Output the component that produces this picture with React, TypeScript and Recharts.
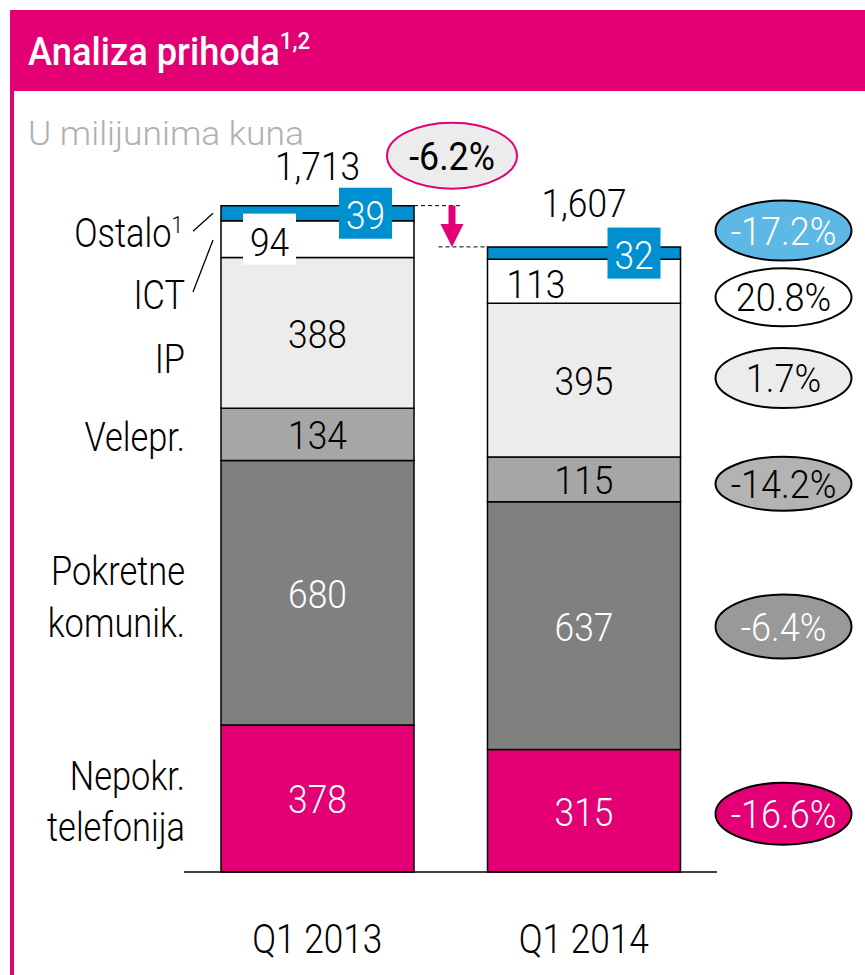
import React from 'react';
import { BarChart, Bar, XAxis, YAxis, LabelList } from 'recharts';

// ---------- data ----------
const years = ['Q1 2013', 'Q1 2014'];
const nepokretnaTelefonija = [378, 315];
const pokretneKomunikacije = [680, 637];
const veleprodaja = [134, 115];
const ipUsluge = [388, 395];
const ictUsluge = [94, 113];
const ostaloPrihodi = [39, 32];
const totalLabels = ['1,713', '1,607'];
const totalValues = [1713, 1607];
const totalChange = '-6.2%';
const seriesKeys = ['nepokr', 'pokretne', 'velepr', 'ip', 'ict', 'ostalo'];
const seriesNames = [['Nepokr.', 'telefonija'], ['Pokretne', 'komunik.'], ['Velepr.'], ['IP'], ['ICT'], ['Ostalo']];
const seriesChange = ['-16.6%', '-6.4%', '-14.2%', '1.7%', '20.8%', '-17.2%'];
const titleText = 'Analiza prihoda';
const titleNote = '1,2';
const ostaloNote = '1';
const unitText = 'U milijunima kuna';

const seriesValues = [nepokretnaTelefonija, pokretneKomunikacije, veleprodaja, ipUsluge, ictUsluge, ostaloPrihodi];

const data = years.map((year, i) => {
  const row: any = { year };
  seriesKeys.forEach((k, s) => {
    row[k] = seriesValues[s][i];
  });
  return row;
});

// ---------- styles ----------
const PINK = '#e20074';
const BLUE = '#0090d0';
const FONT = 'Roboto, "Liberation Sans", Arial, sans-serif';

const STYLE = [
  { fill: PINK, text: '#fff', nameDy: [-8, 43], ell: { fill: PINK, text: '#fff', dy: 3, ry: 31 } },
  { fill: '#808080', text: '#fff', nameDy: [-8, 44], ell: { fill: '#999999', text: '#fff', dy: 1, ry: 32 } },
  { fill: '#a6a6a6', text: '#000', nameDy: [16.5], ell: { fill: '#b3b3b3', text: '#000', dy: 4.5, ry: 27 } },
  { fill: '#ececec', text: '#000', nameDy: [40.5], ell: { fill: '#ececec', text: '#000', dy: -2, ry: 30 } },
  { fill: '#ffffff', text: '#000', nameDy: [70], ell: { fill: '#ffffff', text: '#000', dy: 16, ry: 29 } },
  { fill: BLUE, text: '#fff', nameDy: [34], ell: { fill: '#5db8e5', text: '#fff', dy: -22.5, ry: 30 } },
];
const TOTAL_DY = [-26, -30];

function T({ x, y, size = 38, anchor = 'middle', fill = '#000', weight = 300, sx = 0.93, children }: any) {
  return (
    <text
      transform={`translate(${x},${y}) scale(${sx},1)`}
      x={0}
      y={0}
      fontSize={size}
      textAnchor={anchor}
      fill={fill}
      fontFamily={FONT}
      fontWeight={weight}
    >
      {children}
    </text>
  );
}

const geo = (p: any) => {
  const vb = p.viewBox || {};
  return {
    x: Number(p.x ?? vb.x),
    y: Number(p.y ?? vb.y),
    w: Number(p.width ?? vb.width),
    h: Number(p.height ?? vb.height),
    index: Number(p.index),
  };
};

function makeContent(s: number) {
  return (p: any) => {
    const { x, y, w, h, index } = geo(p);
    if (!isFinite(x) || !isFinite(y)) return null;
    const st = STYLE[s];
    const mid = y + h / 2;
    const key = seriesKeys[s];
    const value = seriesValues[s][index];
    const parts: any[] = [];

    // value labels
    if (key === 'ostalo') {
      const cx = x + w - (index === 0 ? 48.5 : 46.5);
      parts.push(<rect key="box" x={cx - 26.5} y={mid - 25.5} width={53} height={51} fill={BLUE} />);
      parts.push(<T key="v" x={cx} y={mid + 16} fill="#fff">{value}</T>);
      if (index === 0) {
        // ICT label box of the first bar sits over the Ostalo band, so draw it here (on top)
        const k = h / value;
        const ictMid = y + h + (ictUsluge[0] * k) / 2;
        const ix = x + 48.5;
        parts.push(<rect key="ibox" x={ix - 26.5} y={ictMid - 25.5} width={53} height={51} fill="#fff" />);
        parts.push(<T key="iv" x={ix} y={ictMid + 16.5} fill="#000">{ictUsluge[0]}</T>);
      }
    } else if (key === 'ict') {
      if (index !== 0) parts.push(<T key="v" x={x + 48.5} y={mid + 16.5} fill="#000">{value}</T>);
    } else {
      parts.push(<T key="v" x={x + w / 2} y={mid + 15} fill={st.text}>{value}</T>);
    }

    if (index === 0) {
      // category names at left
      if (key === 'ostalo') {
        parts.push(
          <T key="n" x={x - 38} y={mid + st.nameDy[0]} anchor="end" size={40} sx={0.86}>
            {seriesNames[s][0]}
            <tspan dy={-14} fontSize={24} fill="#000">{ostaloNote}</tspan>
          </T>
        );
        parts.push(<line key="ld" x1={x - 28} y1={mid + 18} x2={x - 8} y2={mid} stroke="#000" strokeWidth={1.3} />);
      } else {
        seriesNames[s].forEach((line, li) => {
          parts.push(
            <T key={'n' + li} x={x - 36} y={mid + st.nameDy[li]} anchor="end" size={40} sx={0.86}>
              {line}
            </T>
          );
        });
        if (key === 'ict') {
          parts.push(<line key="ld" x1={x - 28} y1={mid + 53} x2={x - 8} y2={mid + 1} stroke="#000" strokeWidth={1.3} />);
        }
      }
    } else {
      // growth ellipse on right
      const ex = x + w + 103;
      const ey = mid + st.ell.dy;
      parts.push(<ellipse key="e" cx={ex} cy={ey} rx={68} ry={st.ell.ry} fill={st.ell.fill} stroke="#000" strokeWidth={2} />);
      parts.push(<T key="et" x={ex} y={ey + 14} fill={st.ell.text} sx={0.95}>{seriesChange[s]}</T>);
    }

    if (key === 'ostalo') {
      parts.push(
        <T key="tot" x={x + w / 2} y={y + TOTAL_DY[index]} fill="#000">
          {totalLabels[index]}
        </T>
      );
      if (index === 0) {
        const k = h / value;
        const top2 = y + (totalValues[0] - totalValues[1]) * k;
        const ax = x + w + 38;
        parts.push(<line key="d1" x1={x + w} y1={y} x2={x + w + 49} y2={y} stroke="#000" strokeWidth={1} strokeDasharray="4 3" />);
        parts.push(<rect key="sh" x={ax - 3.5} y={y} width={7} height={top2 - y - 21} fill={PINK} />);
        parts.push(
          <polygon key="hd" points={`${ax - 11.5},${top2 - 23} ${ax + 11.5},${top2 - 23} ${ax},${top2}`} fill={PINK} />
        );
        parts.push(
          <ellipse key="te" cx={ax} cy={y - 50} rx={65} ry={33} fill="#ececec" stroke={PINK} strokeWidth={2} />
        );
        parts.push(
          <T key="tt" x={ax} y={y - 36} fill="#000" sx={0.94} weight={400}>
            {totalChange}
          </T>
        );
      } else {
        parts.push(<line key="d2" x1={x - 49} y1={y} x2={x} y2={y} stroke="#000" strokeWidth={1} strokeDasharray="4 3" />);
      }
    }
    return <g>{parts}</g>;
  };
}

const YearTick = (p: any) => (
  <T x={p.x} y={p.y + 81} size={40} sx={0.88}>
    {p.payload.value}
  </T>
);

export default function App() {
  return (
    <div style={{ position: 'absolute', left: 0, top: 0, width: 865, height: 975, background: '#fff', overflow: 'hidden' }}>
      <svg width={865} height={975} style={{ position: 'absolute', left: 0, top: 0 }}>
        <rect x={10} y={10} width={855} height={81} fill={PINK} />
        <rect x={10} y={10} width={4} height={965} fill={PINK} />
        <T x={28} y={65} size={39} fill="#fff" weight={500} anchor="start" sx={0.93}>
          {titleText}
          <tspan dy={-16} fontSize={24}>{titleNote}</tspan>
        </T>
        <T x={28} y={145} size={34} fill="#b0b0b0" weight={300} anchor="start" sx={1.04}>
          {unitText}
        </T>
      </svg>
      <div style={{ position: 'absolute', left: 0, top: 0 }}>
        <BarChart
          width={865}
          height={975}
          data={data}
          margin={{ top: 94, right: 148, bottom: 0, left: 184 }}
          barSize={193}
        >
          <XAxis
            dataKey="year"
            height={103}
            tickLine={false}
            tickSize={0}
            tickMargin={0}
            axisLine={{ stroke: '#000', strokeWidth: 1.5 }}
            tick={<YearTick />}
            interval={0}
          />
          <YAxis hide type="number" domain={[0, 2000]} />
          {seriesKeys.map((k, s) => (
            <Bar
              key={k}
              dataKey={k}
              stackId="a"
              fill={STYLE[s].fill}
              stroke="#000"
              strokeWidth={1.5}
              isAnimationActive={false}
            >
              <LabelList dataKey={k} content={makeContent(s)} />
            </Bar>
          ))}
        </BarChart>
      </div>
    </div>
  );
}
